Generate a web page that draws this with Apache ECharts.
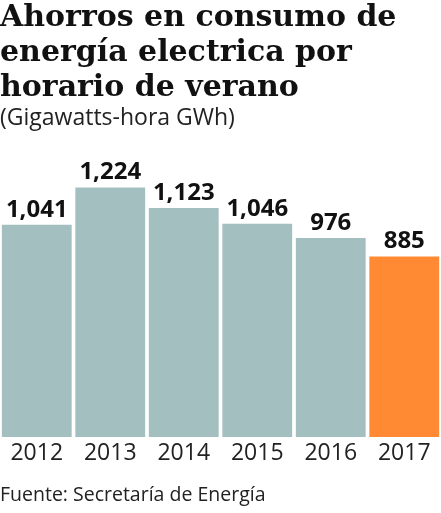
<!DOCTYPE html>
<html>
<head>
<meta charset="utf-8">
<script src="https://cdn.jsdelivr.net/npm/echarts@6/dist/echarts.min.js"></script>
<style>
  html, body { margin: 0; padding: 0; background: #fff; }
  #chart { width: 441px; height: 513px; }
</style>
</head>
<body>
<div id="chart"></div>
<script>
// datos del gráfico
var years = ['2012', '2013', '2014', '2015', '2016', '2017'];
var ahorros = [1041, 1224, 1123, 1046, 976, 885];
var valueLabels = ['1,041', '1,224', '1,123', '1,046', '976', '885'];

var chart = echarts.init(document.getElementById('chart'));

var barData = ahorros.map(function (v, i) {
  return {
    value: v,
    itemStyle: { color: i === ahorros.length - 1 ? '#ff8a33' : '#a3bfbf' }
  };
});

var option = {
  animation: false,
  title: [
    {
      text: 'Ahorros en consumo de\nenergía electrica por\nhorario de verano',
      left: 0,
      top: 1,
      padding: 0,
      textStyle: {
        fontFamily: 'DejaVu Serif',
        fontWeight: 'bold',
        fontSize: 30,
        lineHeight: 35,
        color: '#111'
      }
    },
    {
      text: '(Gigawatts-hora GWh)',
      left: 0,
      top: 107,
      padding: 0,
      textStyle: {
        fontFamily: 'Open Sans',
        fontWeight: 'normal',
        fontSize: 23,
        color: '#222'
      }
    },
    {
      text: 'Fuente: Secretaría de Energía',
      left: 0,
      top: 485,
      padding: 0,
      textStyle: {
        fontFamily: 'Open Sans',
        fontWeight: 'normal',
        fontSize: 19.5,
        color: '#222'
      }
    }
  ],
  grid: {
    left: 0,
    right: 0,
    top: 172,
    bottom: 76
  },
  xAxis: {
    type: 'category',
    data: years,
    axisLine: { show: false },
    axisTick: { show: false },
    axisLabel: {
      margin: 5,
      fontFamily: 'Open Sans',
      fontSize: 23,
      color: '#222'
    }
  },
  yAxis: {
    type: 'value',
    min: 0,
    max: 1300,
    show: false,
    splitLine: { show: false }
  },
  series: [{
    type: 'bar',
    data: barData,
    barCategoryGap: '5%',
    label: {
      show: true,
      position: 'top',
      distance: 3,
      fontFamily: 'Open Sans',
      fontWeight: 'bold',
      fontSize: 24,
      color: '#111',
      formatter: function (p) { return valueLabels[p.dataIndex]; }
    }
  }]
};

chart.setOption(option);
</script>
</body>
</html>
